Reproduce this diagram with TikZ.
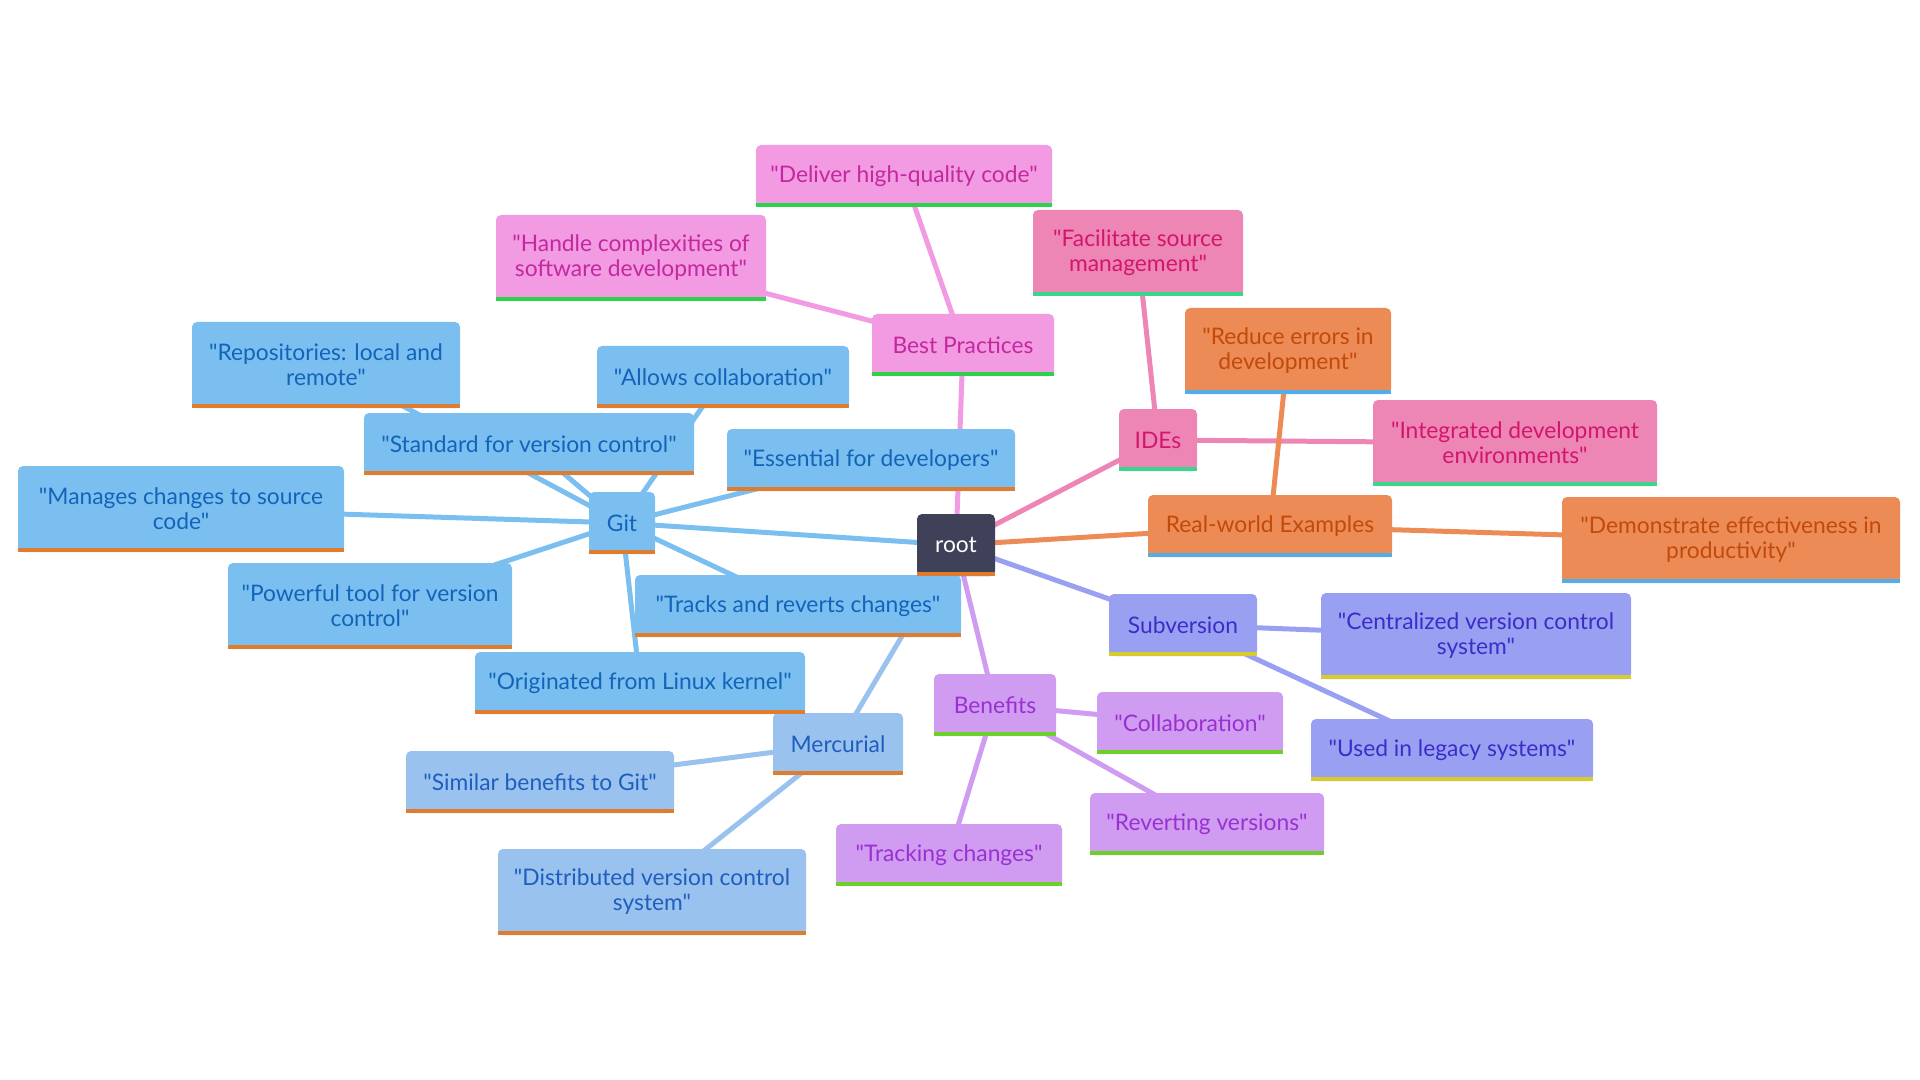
\documentclass[tikz,border=0pt]{standalone}
\usepackage{fontspec}
\setmainfont{Lato}[Ligatures=TeXOff]
\pgfdeclarelayer{background}
\pgfsetlayers{background,main}
\definecolor{rootfill}{HTML}{3E4157}
\definecolor{gitfill}{HTML}{7BBFF1}\definecolor{gittext}{HTML}{1364B8}
\definecolor{merfill}{HTML}{9AC2EF}\definecolor{mertext}{HTML}{1D5EBE}
\definecolor{bpfill}{HTML}{F29AE2}\definecolor{bptext}{HTML}{C4289F}
\definecolor{idefill}{HTML}{ED86B4}\definecolor{idetext}{HTML}{D3166D}
\definecolor{rwfill}{HTML}{EC8B55}\definecolor{rwtext}{HTML}{C24A0A}
\definecolor{svfill}{HTML}{9AA0F1}\definecolor{svtext}{HTML}{3A2DC8}
\definecolor{bnfill}{HTML}{CF9CF1}\definecolor{bntext}{HTML}{9B30D1}
\definecolor{barorange}{HTML}{E07C2D}
\definecolor{bargreen}{HTML}{2ED14A}
\definecolor{barteal}{HTML}{3AD68C}
\definecolor{barblue}{HTML}{52AEE8}
\definecolor{baryellow}{HTML}{D6CC2C}
\definecolor{barlime}{HTML}{6CCF2A}
\tikzset{
  box/.style={rectangle, rounded corners=2.5pt, inner sep=0pt, align=center,
    font=\fontsize{11.4}{12.5}\selectfont},
  s1/.style={box, minimum height=31pt},
  s2/.style={box, minimum height=43pt},
  rootc/.style={fill=rootfill, text=white},
  gitc/.style={fill=gitfill, text=gittext},
  merc/.style={fill=merfill, text=mertext},
  bpc/.style={fill=bpfill, text=bptext},
  idec/.style={fill=idefill, text=idetext},
  rwc/.style={fill=rwfill, text=rwtext},
  svc/.style={fill=svfill, text=svtext},
  bnc/.style={fill=bnfill, text=bntext},
  lk/.style={line width=2.5pt, draw=#1},
}
\begin{document}
\begin{tikzpicture}[x=0.5pt, y=-0.5pt]
\useasboundingbox (0,0) rectangle (1920,1080);
% root
\node[s1, rootc, minimum width=39pt] (root) at (956,545) {root};
% Best practices
\node[s1, bpc, minimum width=91pt] (bp) at (963,345) {Best Practices};
\node[s1, bpc, minimum width=148pt] (bp1) at (904,176) {"Deliver high-quality code"};
\node[s2, bpc, minimum width=135pt] (bp2) at (631,258) {"Handle complexities of\\software development"};
% IDEs
\node[s2, idec, minimum width=105pt] (ide1) at (1138,253) {"Facilitate source\\management"};
\node[s1, idec, minimum width=39pt] (ide) at (1158,440) {IDEs};
\node[s2, idec, minimum width=142pt] (ide2) at (1515,443) {"Integrated development\\environments"};
% Real-world
\node[s2, rwc, minimum width=103pt] (rw1) at (1288,351) {"Reduce errors in\\development"};
\node[s1, rwc, minimum width=122pt] (rw) at (1270,526) {Real-world Examples};
\node[s2, rwc, minimum width=169pt] (rw2) at (1731,540) {"Demonstrate effectiveness in\\productivity"};
% Subversion
\node[s1, svc, minimum width=74pt] (sv) at (1183,625) {Subversion};
\node[s2, svc, minimum width=155pt] (sv1) at (1476,636) {"Centralized version control\\system"};
\node[s1, svc, minimum width=141pt] (sv2) at (1452,750) {"Used in legacy systems"};
% Benefits
\node[s1, bnc, minimum width=61pt] (bn) at (995,705) {Benefits};
\node[s1, bnc, minimum width=93pt] (bn1) at (1190,723) {"Collaboration"};
\node[s1, bnc, minimum width=117pt] (bn2) at (1207,824) {"Reverting versions"};
\node[s1, bnc, minimum width=113pt] (bn3) at (949,855) {"Tracking changes"};
% Git
\node[s2, gitc, minimum width=134pt] (g1) at (326,365) {"Repositories: local and\\remote"};
\node[s1, gitc, minimum width=126pt] (g2) at (723,377) {"Allows collaboration"};
\node[s1, gitc, minimum width=165pt] (g3) at (529,444) {"Standard for version control"};
\node[s1, gitc, minimum width=144pt] (g4) at (871,460) {"Essential for developers"};
\node[s2, gitc, minimum width=163pt] (g5) at (181,509) {"Manages changes to source\\code"};
\node[s1, gitc, minimum width=33pt] (git) at (622,523) {Git};
\node[s2, gitc, minimum width=142pt] (g6) at (370,606) {"Powerful tool for version\\control"};
\node[s1, gitc, minimum width=163pt] (g7) at (798,606) {"Tracks and reverts changes"};
\node[s1, gitc, minimum width=165pt] (g8) at (640,683) {"Originated from Linux kernel"};
% Mercurial
\node[s1, merc, minimum width=65pt] (mer) at (838,744) {Mercurial};
\node[s1, merc, minimum width=134pt] (mer1) at (540,782) {"Similar benefits to Git"};
\node[s2, merc, minimum width=154pt] (mer2) at (652,892) {"Distributed version control\\system"};
% bottom bars
\foreach \n in {root,git,g1,g2,g3,g4,g5,g6,g7,g8,mer,mer1,mer2}
  \fill[barorange] (\n.south west) rectangle ([yshift=2pt]\n.south east);
\foreach \n in {bp,bp1,bp2}
  \fill[bargreen] (\n.south west) rectangle ([yshift=2pt]\n.south east);
\foreach \n in {ide,ide1,ide2}
  \fill[barteal] (\n.south west) rectangle ([yshift=2pt]\n.south east);
\foreach \n in {rw,rw1,rw2}
  \fill[barblue] (\n.south west) rectangle ([yshift=2pt]\n.south east);
\foreach \n in {sv,sv1,sv2}
  \fill[baryellow] (\n.south west) rectangle ([yshift=2pt]\n.south east);
\foreach \n in {bn,bn1,bn2,bn3}
  \fill[barlime] (\n.south west) rectangle ([yshift=2pt]\n.south east);
% connectors
\begin{pgfonlayer}{background}
\draw[lk=bpfill] (root.center) -- (bp.center);
\draw[lk=bpfill] (bp.center) -- (bp1.center);
\draw[lk=bpfill] (bp.center) -- (bp2.center);
\draw[lk=idefill] (root.center) -- (ide.center);
\draw[lk=idefill] (ide.center) -- (ide1.center);
\draw[lk=idefill] (ide.center) -- (ide2.center);
\draw[lk=rwfill] (root.center) -- (rw.center);
\draw[lk=rwfill] (rw.center) -- (rw1.center);
\draw[lk=rwfill] (rw.center) -- (rw2.center);
\draw[lk=svfill] (root.center) -- (sv.center);
\draw[lk=svfill] (sv.center) -- (sv1.center);
\draw[lk=svfill] (sv.center) -- (sv2.center);
\draw[lk=bnfill] (root.center) -- (bn.center);
\draw[lk=bnfill] (bn.center) -- (bn1.center);
\draw[lk=bnfill] (bn.center) -- (bn2.center);
\draw[lk=bnfill] (bn.center) -- (bn3.center);
\draw[lk=merfill] (root.center) -- (mer.center);
\draw[lk=merfill] (mer.center) -- (mer1.center);
\draw[lk=merfill] (mer.center) -- (mer2.center);
\draw[lk=gitfill] (root.center) -- (git.center);
\foreach \n in {g1,g2,g3,g4,g5,g6,g7,g8}
  \draw[lk=gitfill] (git.center) -- (\n.center);
\end{pgfonlayer}
\end{tikzpicture}
\end{document}
